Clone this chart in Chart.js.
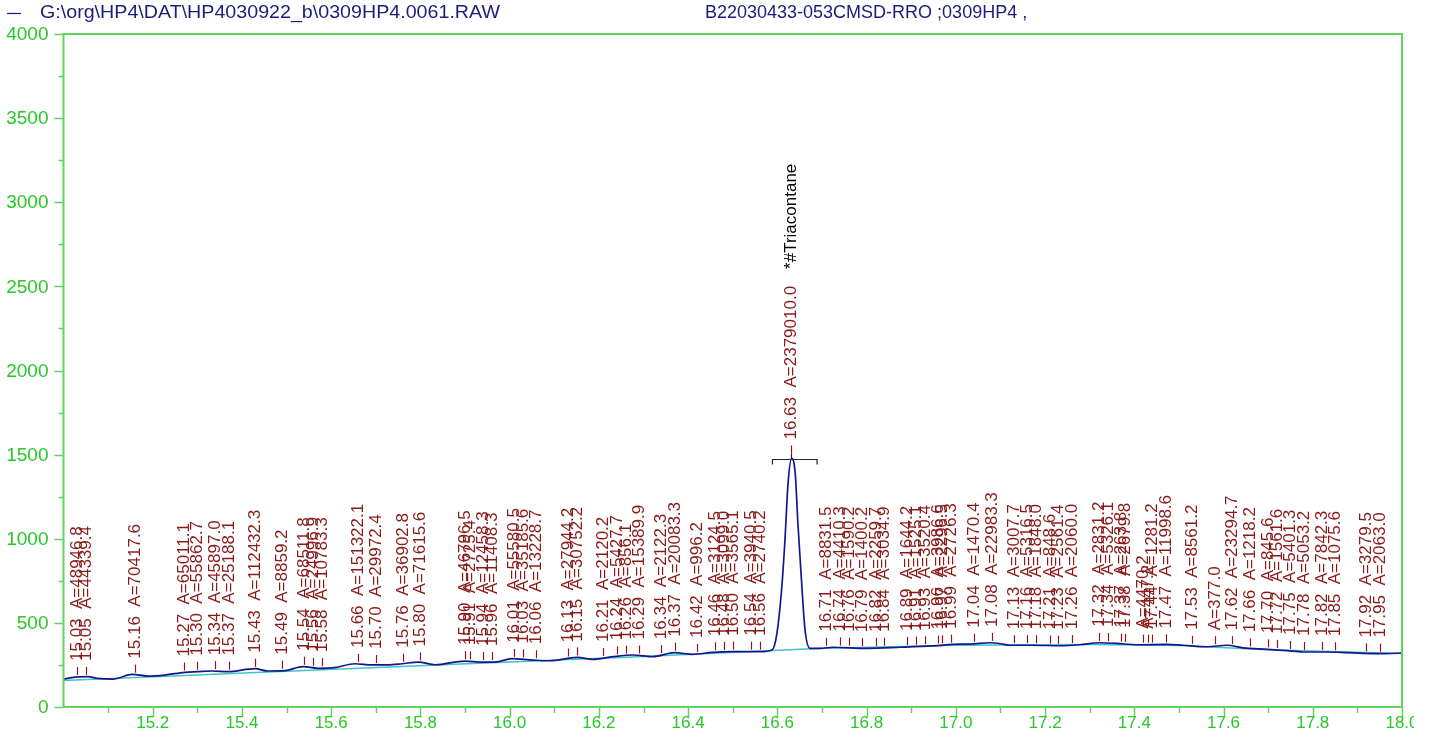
<!DOCTYPE html>
<html>
<head>
<meta charset="utf-8">
<script src="https://cdn.jsdelivr.net/npm/chart.js@4/dist/chart.umd.min.js"></script>
<style>
  html, body { margin: 0; padding: 0; background: #fff; overflow: hidden; }
  #wrap { width: 1429px; height: 747px; }
</style>
</head>
<body>
<div id="wrap"><canvas id="chromatogram"></canvas></div>
<script>
const fileName = "G:\\org\\HP4\\DAT\\HP4030922_b\\0309HP4.0061.RAW";
const sampleName = "B22030433-053CMSD-RRO ;0309HP4 ,";

// detector trace
const traceRt = [15.000, 15.026, 15.055, 15.077, 15.111, 15.154, 15.189, 15.227, 15.272, 15.301,
  15.333, 15.369, 15.429, 15.458, 15.496, 15.537, 15.570, 15.608, 15.653, 15.691,
  15.727, 15.759, 15.795, 15.833, 15.900, 15.938, 15.967, 16.005, 16.052, 16.090,
  16.151, 16.187, 16.231, 16.276, 16.321, 16.370, 16.410, 16.455, 16.500, 16.561,
  16.588, 16.599, 16.610, 16.617, 16.624, 16.632, 16.640, 16.646, 16.654, 16.662,
  16.673, 16.696, 16.725, 16.801, 16.875, 16.949, 17.009, 17.031, 17.076, 17.105,
  17.120, 17.172, 17.233, 17.278, 17.323, 17.361, 17.406, 17.473, 17.509, 17.563,
  17.608, 17.644, 17.698, 17.742, 17.778, 17.832, 17.877, 17.913, 17.957, 18.000];
const traceSignal = [165, 178, 180, 170, 166, 194, 184, 190, 206, 210,
  214, 210, 228, 214, 216, 240, 230, 234, 257, 250,
  250, 257, 267, 251, 273, 267, 267, 287, 279, 275,
  295, 283, 299, 309, 299, 323, 313, 325, 329, 329,
  339, 438, 715, 993, 1331, 1478, 1389, 1092, 755, 458,
  349, 349, 355, 349, 355, 363, 374, 374, 382, 374,
  367, 367, 364, 370, 382, 378, 370, 372, 367, 358,
  367, 351, 343, 335, 327, 327, 323, 319, 317, 321];

// integration baseline
const baseRt = [15.00, 15.50, 16.00, 16.30, 16.59, 16.69, 17.00, 17.30, 17.50, 17.70, 18.00];
const baseSignal = [157, 212, 268, 300, 336, 347, 367, 372, 365, 340, 318];

// peak table
const peakRt = [15.03, 15.05, 15.16, 15.27, 15.30, 15.34, 15.37, 15.43, 15.49, 15.54,
  15.56, 15.58, 15.66, 15.70, 15.76, 15.80, 15.90, 15.91, 15.94, 15.96,
  16.01, 16.03, 16.06, 16.13, 16.15, 16.21, 16.24, 16.26, 16.29, 16.34,
  16.37, 16.42, 16.46, 16.48, 16.50, 16.54, 16.56, 16.63, 16.71, 16.74,
  16.76, 16.79, 16.82, 16.84, 16.89, 16.91, 16.93, 16.96, 16.97, 16.99,
  17.04, 17.08, 17.13, 17.16, 17.18, 17.21, 17.23, 17.26, 17.32, 17.34,
  17.37, 17.38, 17.42, 17.43, 17.44, 17.47, 17.53, 17.58, 17.62, 17.66,
  17.70, 17.72, 17.75, 17.78, 17.82, 17.85, 17.92, 17.95];
const peakArea = ["48946.8", "44339.4", "70417.6", "65011.1", "55862.7", "45897.0", "25188.1", "112432.3", "8859.2", "68511.8",
  "24996.9", "10783.3", "151322.1", "29972.4", "36902.8", "71615.6", "46796.5", "2725.4", "12458.3", "11408.3",
  "55580.5", "35185.6", "13228.7", "27944.2", "30752.2", "2120.2", "5427.7", "856.1", "15389.9", "2122.3",
  "20083.3", "996.2", "3124.5", "3099.0", "3565.1", "3940.5", "2740.2", "2379010.0", "8831.5", "4410.3",
  "1590.2", "1400.2", "2259.7", "3034.9", "1644.2", "1525.1", "3520.4", "3986.6", "2296.5", "2726.3",
  "1470.4", "22983.3", "3007.7", "5316.5", "1848.0", "848.6", "2561.4", "2060.0", "2831.2", "5326.1",
  "263.8", "2679.8", "4470.2", "447.2", "1281.2", "11998.6", "8561.2", "377.0", "23294.7", "1218.2",
  "845.6", "1561.6", "5401.3", "5053.2", "7842.3", "1075.6", "3279.5", "2063.0"];
const areaOnlyRt = [17.42, 17.43, 17.58];
const namedPeakRt = 16.63;
const namedPeakName = "*#Triacontane";
const namedPeakStart = 16.589;
const namedPeakEnd = 16.689;

const xTickLabels = [15.2, 15.4, 15.6, 15.8, 16.0, 16.2, 16.4, 16.6, 16.8, 17.0, 17.2, 17.4, 17.6, 17.8, 18.0];
const yTickLabels = [0, 500, 1000, 1500, 2000, 2500, 3000, 3500, 4000];

const green = "rgb(40,200,40)";
const axisGreen = "rgb(95,212,95)";
const navy = "#1c1c7a";
const red = "#8a1a1a";
const font17 = "17px 'Liberation Sans', Arial, sans-serif";

function traceAt(rt) {
  for (let i = 1; i < traceRt.length; i++) {
    if (rt <= traceRt[i]) {
      const t = (rt - traceRt[i - 1]) / (traceRt[i] - traceRt[i - 1]);
      return traceSignal[i - 1] + t * (traceSignal[i] - traceSignal[i - 1]);
    }
  }
  return traceSignal[traceSignal.length - 1];
}

const frame = {
  id: "frame",
  afterDraw(chart) {
    const { ctx, chartArea: a, scales: { x, y } } = chart;
    ctx.save();
    ctx.strokeStyle = axisGreen;
    ctx.lineWidth = 2;
    ctx.strokeRect(a.left, a.top, a.right - a.left, a.bottom - a.top);
    ctx.lineWidth = 1.5;
    ctx.beginPath();
    for (let v = 0; v <= 4000; v += 250) {
      const py = Math.round(y.getPixelForValue(v)) + 0.5;
      ctx.moveTo(a.left, py);
      ctx.lineTo(a.left - (v % 500 === 0 ? 9 : 5), py);
    }
    for (let k = 1; k <= 30; k++) {
      const px = Math.round(x.getPixelForValue(15 + k * 0.1)) + 0.5;
      ctx.moveTo(px, a.bottom);
      ctx.lineTo(px, a.bottom + (k % 2 === 0 ? 10 : 6));
    }
    ctx.stroke();

    ctx.fillStyle = green;
    ctx.font = "19px 'Liberation Sans', Arial, sans-serif";
    ctx.textAlign = "right";
    ctx.textBaseline = "middle";
    yTickLabels.forEach(v => ctx.fillText(String(v), a.left - 15, y.getPixelForValue(v) + 1));
    ctx.font = font17;
    ctx.textAlign = "center";
    ctx.beginPath();
    ctx.rect(0, a.bottom, 1414, 60);
    ctx.clip();
    xTickLabels.forEach(v => ctx.fillText(v.toFixed(1), x.getPixelForValue(v), a.bottom + 16));
    ctx.restore();

    // header: file name and sample
    ctx.save();
    ctx.font = "18px 'Liberation Sans', Arial, sans-serif";
    ctx.fillStyle = navy;
    ctx.strokeStyle = navy;
    ctx.lineWidth = 1.2;
    ctx.textBaseline = "middle";
    ctx.beginPath();
    ctx.moveTo(7, 13.5);
    ctx.lineTo(21, 13.5);
    ctx.stroke();
    ctx.fillText(sampleName, 705, 13);
    const w = ctx.measureText(fileName).width;
    ctx.translate(40, 13);
    ctx.scale(460 / w, 1);
    ctx.fillText(fileName, 0, 0);
    ctx.restore();
  }
};

const peakLabels = {
  id: "peakLabels",
  afterDatasetsDraw(chart) {
    const { ctx, scales: { x, y } } = chart;
    ctx.save();
    ctx.font = font17;
    ctx.textBaseline = "middle";
    peakRt.forEach((rt, i) => {
      const px = Math.round(x.getPixelForValue(rt)) + 0.5;
      const named = rt === namedPeakRt;
      let py = y.getPixelForValue(traceAt(rt));
      if (named) {
        const by = Math.round(py - 5.5) + 0.5;
        ctx.strokeStyle = "#222";
        ctx.lineWidth = 1.2;
        ctx.beginPath();
        const l = x.getPixelForValue(namedPeakStart), r = x.getPixelForValue(namedPeakEnd);
        ctx.moveTo(l, by + 5); ctx.lineTo(l, by); ctx.lineTo(r, by); ctx.lineTo(r, by + 5);
        ctx.moveTo(px, by); ctx.lineTo(px, by - 6);
        ctx.stroke();
        py -= 9;
      }
      ctx.strokeStyle = red;
      ctx.lineWidth = 1.2;
      ctx.beginPath();
      ctx.moveTo(px, py - 2);
      ctx.lineTo(px, py - 10);
      ctx.stroke();
      const txt = (areaOnlyRt.includes(rt) ? "" : rt.toFixed(2) + "  ") + "A=" + peakArea[i];
      ctx.save();
      ctx.translate(px, py - 16);
      ctx.rotate(-Math.PI / 2);
      ctx.fillStyle = red;
      ctx.fillText(txt, 0, 0);
      if (named) {
        ctx.fillStyle = "#000";
        ctx.fillText(namedPeakName, ctx.measureText(txt).width + 17, 0);
      }
      ctx.restore();
    });
    ctx.restore();
  }
};

new Chart(document.getElementById("chromatogram").getContext("2d"), {
  type: "line",
  data: {
    datasets: [
      {
        label: "trace",
        data: traceRt.map((t, i) => ({ x: t, y: traceSignal[i] })),
        borderColor: "#16168c",
        borderWidth: 1.7,
        pointRadius: 0,
        cubicInterpolationMode: "monotone",
      },
      {
        label: "baseline",
        data: baseRt.map((t, i) => ({ x: t, y: baseSignal[i] })),
        borderColor: "#3cc6c6",
        borderWidth: 1.5,
        pointRadius: 0,
      },
    ],
  },
  options: {
    responsive: true,
    maintainAspectRatio: false,
    animation: false,
    devicePixelRatio: 1,
    layout: { padding: { left: 63.5, right: 27, top: 34, bottom: 40 } },
    scales: {
      x: { type: "linear", min: 15, max: 18, display: false },
      y: { min: 0, max: 4000, display: false },
    },
    plugins: {
      legend: { display: false },
      tooltip: { enabled: false },
    },
  },
  plugins: [frame, peakLabels],
});
</script>
</body>
</html>
